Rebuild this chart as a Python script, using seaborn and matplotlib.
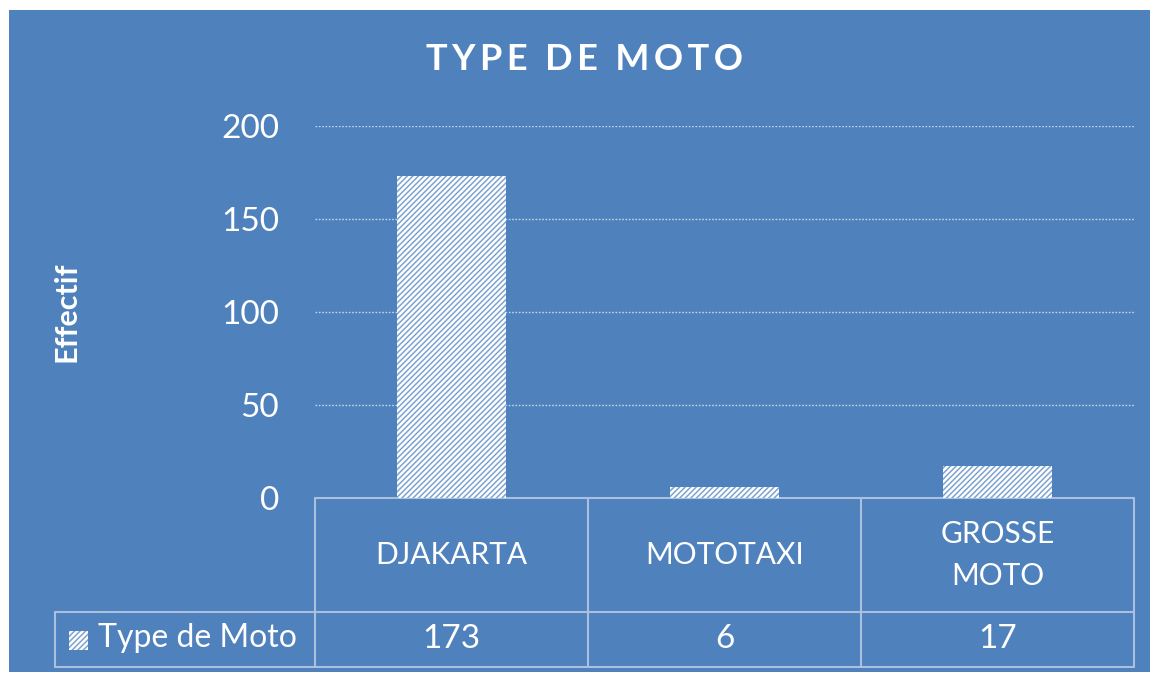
import matplotlib
matplotlib.use("Agg")
import matplotlib.pyplot as plt
import matplotlib.patches as mpatches
import seaborn as sns
import pandas as pd

# data
categories = ["DJAKARTA", "MOTOTAXI", "GROSSE\nMOTO"]
counts = [173, 6, 17]
series_name = "Type de Moto"
yticks = [0, 50, 100, 150, 200]

BG = "#4F81BD"
GRID = "#C5D5EA"
LINE = "#A9C0DE"

sns.set_style("white")
plt.rcParams["font.family"] = ["Lato", "DejaVu Sans"]
plt.rcParams["hatch.linewidth"] = 1.1

df = pd.DataFrame({"cat": categories, "n": counts})

fig = plt.figure(figsize=(11.55, 6.77), dpi=100, facecolor="white")
# blue chart area
fig.patches.append(mpatches.Rectangle((9 / 1155, 1 - 672 / 677), (1150 - 9) / 1155, (672 - 10) / 677,
                                      transform=fig.transFigure, facecolor=BG, edgecolor="none", zorder=-1))

ax = fig.add_axes([315 / 1155, 1 - 498 / 677, (1134 - 315) / 1155, (498 - 126) / 677])
ax.set_facecolor(BG)
ax.patch.set_alpha(0)

sns.barplot(data=df, x="cat", y="n", ax=ax, width=0.4, color="white",
            saturation=1, hatch="//////", edgecolor="#7FA3CF", linewidth=0, zorder=3)

ax.set_ylim(0, 200)
ax.set_xlim(-0.5, len(categories) - 0.5)
ax.set_yticks(yticks)
ax.set_yticklabels([str(v) for v in yticks])
for y in yticks[1:]:
    ax.axhline(y, color=GRID, lw=1, ls=(0, (1.2, 1.2)), zorder=1)

for s in ax.spines.values():
    s.set_visible(False)
ax.tick_params(axis="y", length=0, pad=26, labelsize=24, labelcolor="white")
ax.tick_params(axis="x", bottom=False, labelbottom=False)
ax.set_xlabel("")
ax.set_ylabel("Effectif", fontsize=22, fontweight="bold", color="white")
ax.yaxis.set_label_coords((80 - 315) / 819, 0.5)

# data table under the axis
r1 = (498 - 612) / 372
r2 = (498 - 667) / 372
leftx = -0.5 - (315 - 55) / 273
tr = ax.get_xaxis_transform()
kw = dict(color=LINE, lw=1.5, transform=tr, clip_on=False)
ax.plot([-0.5, 2.5], [0, 0], **kw)
ax.plot([leftx, 2.5], [r1, r1], **kw)
ax.plot([leftx, 2.5], [r2, r2], **kw)
ax.plot([leftx, leftx], [r1, r2], **kw)
for x in [-0.5, 0.5, 1.5, 2.5]:
    ax.plot([x, x], [0, r2], **kw)

for i, (c, n) in enumerate(zip(categories, counts)):
    ax.text(i, r1 / 2, c, transform=tr, ha="center", va="center", fontsize=21.5,
            color="white", linespacing=1.6)
    ax.text(i, (r1 + r2) / 2, str(n), transform=tr, ha="center", va="center",
            fontsize=24, color="white")

# legend key in table
fig.patches.append(mpatches.Rectangle((69 / 1155, 1 - 650 / 677), 19 / 1155, 19 / 677,
                                      transform=fig.transFigure, facecolor="white",
                                      edgecolor="#7FA3CF", hatch="//////", linewidth=0))
fig.text(98 / 1155, 1 - 638 / 677, series_name, ha="left", va="center",
         fontsize=23, color="white")

fig.text(585 / 1155, 1 - 60 / 677, "T Y P E   D E   M O T O".replace(" ", "\u2009").replace("\u2009\u2009\u2009", "  "),
         ha="center", va="center", fontsize=26, fontweight="bold", color="white")

fig.savefig("out.png", dpi=100, facecolor="white")
